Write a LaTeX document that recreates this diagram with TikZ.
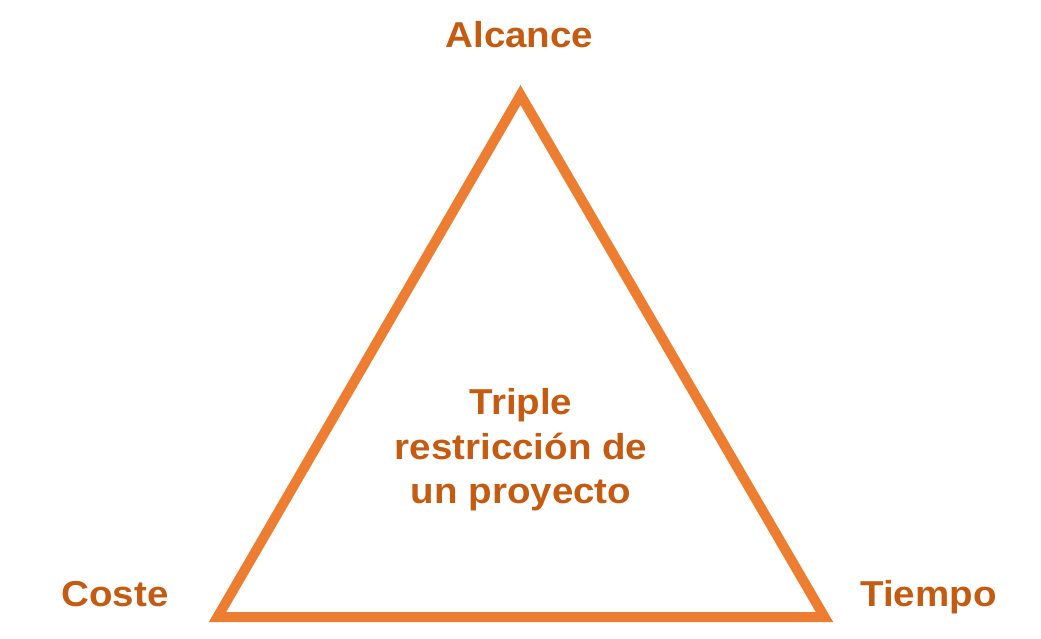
\documentclass[tikz,border=0pt]{standalone}
\usepackage{fontspec}
\setmainfont{Liberation Sans}[FakeStretch=1.07]
\definecolor{lineorange}{HTML}{ED7D31}
\definecolor{textorange}{HTML}{C55A11}
\begin{document}
\begin{tikzpicture}[x=1pt,y=-1pt,
  lbl/.style={inner sep=0pt, anchor=base, text=textorange, font=\bfseries\fontsize{36}{44}\selectfont},
  tri/.style={draw=lineorange, line width=10pt, line join=miter}]
\useasboundingbox (0,0) rectangle (1041,639);
\coordinate (A) at (520.5,95);
\coordinate (B) at (217.5,617);
\coordinate (C) at (824.5,617);
\draw[tri] (A) -- (B) -- (C) -- cycle;
\node[lbl] (alc) at (519.5,47.5) {Alcance};
\node[lbl] (cos) at (115,606) {Coste};
\node[lbl] (tie) at (928.5,606) {Tiempo};
\node[lbl] (t1) at (521,414.5) {Triple};
\node[lbl] (t2) at (521,459) {restricción de};
\node[lbl] (t3) at (521,503) {un proyecto};
\end{tikzpicture}
\end{document}
